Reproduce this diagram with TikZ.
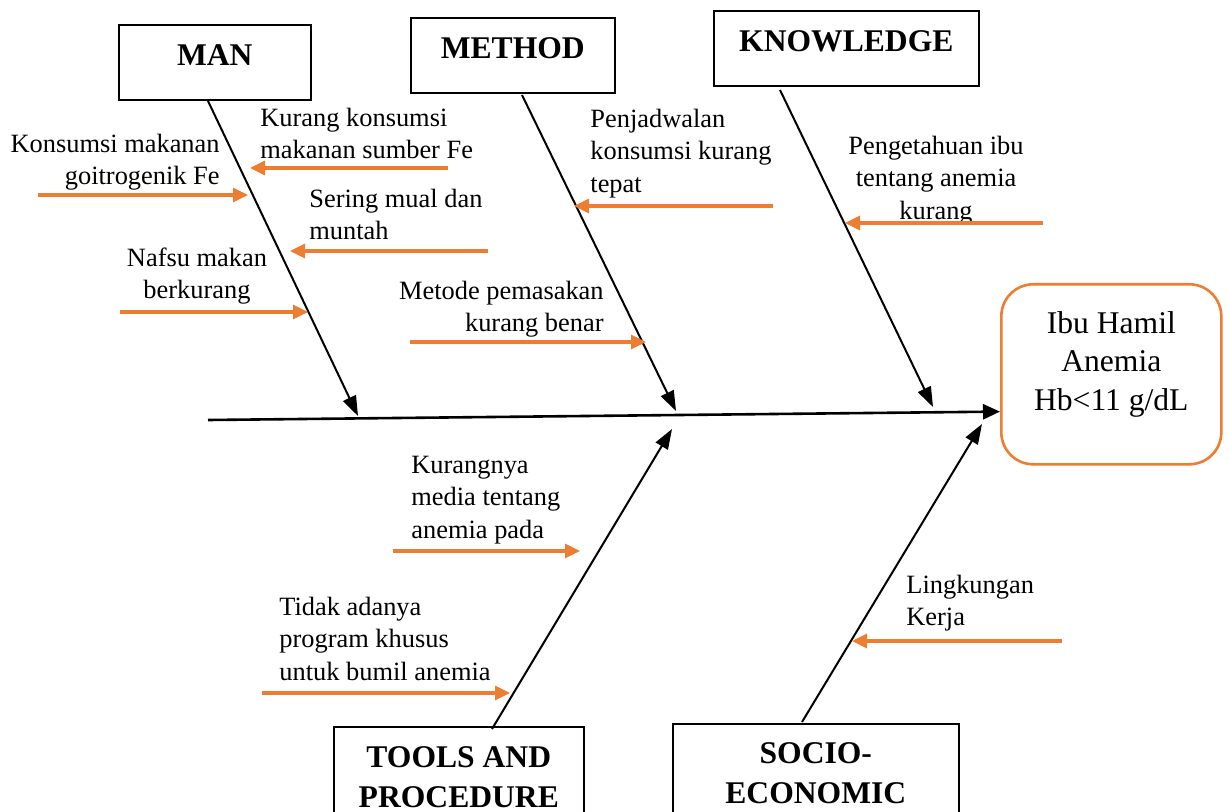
\documentclass[tikz,border=0pt]{standalone}
\usepackage{fontspec}
\setmainfont{Liberation Serif}
\usetikzlibrary{arrows.meta,calc}
\definecolor{ora}{RGB}{237,125,49}
\begin{document}
\begin{tikzpicture}[x=0.5pt,y=-0.5pt,
  cause/.style={font=\fontsize{13.2}{16.25}\selectfont, inner sep=0pt},
  head/.style={draw, line width=0.8pt, font=\bfseries\fontsize{15.8}{20}\selectfont, inner sep=0pt, anchor=north west, align=center},
  bone/.style={line width=1pt, -{Triangle[length=10pt,width=7pt]}},
  spine/.style={line width=1.3pt, -{Triangle[length=8.5pt,width=7.5pt]}},
  sub/.style={draw=ora, line width=1.6pt, -{Triangle[length=7.5pt,width=7pt]}},
]
\useasboundingbox (0,0) rectangle (1229,812);

% category boxes
\node[head, minimum width=96pt, text height=20.5pt, text depth=17pt] (man) at (118,24) {MAN};
\node[head, minimum width=102pt, text height=20.5pt, text depth=17pt] (method) at (410,17) {METHOD};
\node[head, minimum width=132.5pt, text height=20.5pt, text depth=17pt] (know) at (713,10) {KNOWLEDGE};
\node[head, minimum width=125pt, text height=40.5pt, text depth=20pt] (tools) at (333,726) {TOOLS AND\\PROCEDURE};
\node[head, minimum width=143pt, text height=40pt, text depth=20pt] (socio) at (672,723) {SOCIO-\\ECONOMIC};

% effect
\node[draw=ora, line width=1.3pt, rounded corners=16pt, minimum width=110pt, inner sep=0pt,
      align=center, font=\fontsize{15.8}{19.25}\selectfont, text height=63pt, text depth=27pt,
      anchor=north west] (effect) at (1000,283) {Ibu Hamil\\Anemia\\Hb<11 g/dL};

% spine and bones
\coordinate (spineA) at (208,420);
\coordinate (spineB) at ($(effect.south west)+(0,-54)$);
\coordinate (manA) at (208,101);   \coordinate (manB) at (358,416);
\coordinate (methA) at (522,95);   \coordinate (methB) at (676,411);
\coordinate (knowA) at (780,90);   \coordinate (knowB) at (933,407);
\coordinate (toolA) at (492,729);  \coordinate (toolB) at (672,429);
\coordinate (socA) at (802,722);   \coordinate (socB) at (982,424);

\draw[spine] (spineA) -- (spineB);
\draw[bone] (manA) -- (manB);
\draw[bone] (methA) -- (methB);
\draw[bone] (knowA) -- (knowB);
\draw[bone] (toolA) -- (toolB);
\draw[bone] (socA) -- (socB);

% cause texts
\node[cause, anchor=north west, align=left] (c1) at (260,103) {\strut Kurang konsumsi\\makanan sumber Fe};
\node[cause, anchor=north east, align=right] (c2) at (220,129) {\strut Konsumsi makanan\\goitrogenik Fe};
\node[cause, anchor=north west, align=left] (c3) at (309,184) {\strut Sering mual dan\\muntah};
\node[cause, anchor=north, align=center] (c4) at (197,243) {\strut Nafsu makan\\berkurang};
\node[cause, anchor=north east, align=right] (c5) at (604,276) {\strut Metode pemasakan\\kurang benar};
\node[cause, anchor=north west, align=left] (c6) at (590,104) {\strut Penjadwalan\\konsumsi kurang\\tepat};
\node[cause, anchor=north, align=center] (c7) at (936,131) {\strut Pengetahuan ibu\\tentang anemia\\kurang};
\node[cause, anchor=north west, align=left] (c8) at (411,450) {\strut Kurangnya\\media tentang\\anemia pada};
\node[cause, anchor=north west, align=left] (c9) at (279,592) {\strut Tidak adanya\\program khusus\\untuk bumil anemia};
\node[cause, anchor=north west, align=left] (c10) at (906,570) {\strut Lingkungan\\Kerja};

% cause arrows
\coordinate (s1a) at (448,168);  \coordinate (s1b) at (250,168);
\coordinate (s2a) at (38,195);   \coordinate (s2b) at (248,195);
\coordinate (s3a) at (488,251);  \coordinate (s3b) at (290,251);
\coordinate (s4a) at (120,312);  \coordinate (s4b) at (308,312);
\coordinate (s5a) at (410,342);  \coordinate (s5b) at (646,342);
\coordinate (s6a) at (773,206);  \coordinate (s6b) at (574,206);
\coordinate (s7a) at (1043,223); \coordinate (s7b) at (845,223);
\coordinate (s8a) at (393,551);  \coordinate (s8b) at (580,551);
\coordinate (s9a) at (262,693);  \coordinate (s9b) at (510,693);
\coordinate (s10a) at (1062,641); \coordinate (s10b) at (852,641);
\foreach \i in {1,...,10} {\draw[sub] (s\i a) -- (s\i b);}
\end{tikzpicture}
\end{document}
